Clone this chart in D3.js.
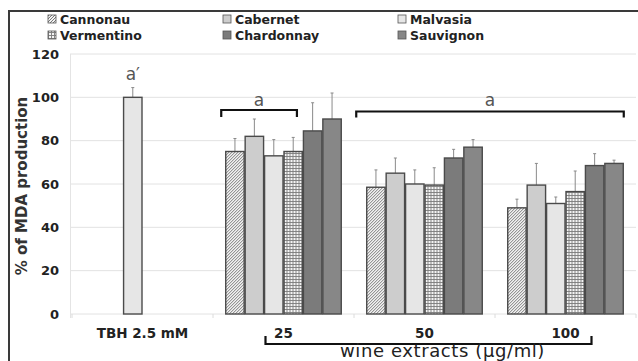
<!DOCTYPE html>
<html>
<head>
<meta charset="utf-8">
<script src="https://cdn.jsdelivr.net/npm/d3@7"></script>
<style>
  body { margin: 0; background: #fff; }
  svg { display: block; font-family: "DejaVu Sans", Verdana, sans-serif; }
</style>
</head>
<body>
<svg id="main" width="638" height="361"></svg>
<script>
var categories = ["TBH 2.5 mM", "25", "50", "100"];
var seriesNames = ["Cannonau", "Cabernet", "Malvasia", "Vermentino", "Chardonnay", "Sauvignon"];

// % of MDA production, one list per wine (null = no bar)
var cannonau   = [null, 75, 58.5, 49];
var cabernet   = [null, 82, 65, 59.5];
var malvasia   = [100, 73, 60, 51];
var vermentino = [null, 75, 59.5, 56.5];
var chardonnay = [null, 84.5, 72, 68.5];
var sauvignon  = [null, 90, 77, 69.5];

// standard deviations
var cannonauErr   = [null, 6, 8, 4];
var cabernetErr   = [null, 8, 7, 10];
var malvasiaErr   = [4.5, 7.5, 6.5, 3];
var vermentinoErr = [null, 6.5, 8, 9.5];
var chardonnayErr = [null, 13, 4, 5.5];
var sauvignonErr  = [null, 12, 3.5, 1.5];

var yTicks = [0, 20, 40, 60, 80, 100, 120];

function drawChart(){
    var svg = d3.select("#main");
    svg.selectAll("*").remove();

    var values = [cannonau, cabernet, malvasia, vermentino, chardonnay, sauvignon];
    var errors = [cannonauErr, cabernetErr, malvasiaErr, vermentinoErr, chardonnayErr, sauvignonErr];

    var fills = ["url(#hatch)", "#cdcdcd", "#e6e6e6", "url(#check)", "#7b7b7b", "#878787"];

    // patterns
    var defs = svg.append("defs");
    var hatch = defs.append("pattern").attr("id", "hatch")
        .attr("patternUnits", "userSpaceOnUse")
        .attr("width", 3).attr("height", 3);
    hatch.append("rect").attr("width", 3).attr("height", 3).attr("fill", "#f2f2f2");
    hatch.append("path").attr("d", "M-1,1 l2,-2 M0,3 l3,-3 M2,4 l2,-2")
        .attr("stroke", "#6a6a6a").attr("stroke-width", 0.9);

    var check = defs.append("pattern").attr("id", "check")
        .attr("patternUnits", "userSpaceOnUse")
        .attr("width", 3).attr("height", 3);
    check.append("rect").attr("width", 3).attr("height", 3).attr("fill", "#f4f4f4");
    check.append("path").attr("d", "M0,0.5 h3 M0.5,0 v3")
        .attr("stroke", "#7a7a7a").attr("stroke-width", 0.9);

    // outer frame (left and top visible in the photo)
    svg.append("path")
        .attr("d", "M9,362 V11 H640")
        .attr("fill", "none").attr("stroke", "#3a3a3a").attr("stroke-width", 2);

    var y = d3.scaleLinear().domain([0, 120]).range([314, 54]);
    var x0 = d3.scaleBand().domain(categories).range([72, 636]).paddingInner(0).paddingOuter(0);
    var x1 = d3.scaleBand().domain(seriesNames).range([0, x0.bandwidth()]).paddingInner(0).paddingOuter(0.63);

    // gridlines
    svg.append("g").selectAll("line")
        .data(yTicks).enter().append("line")
        .attr("x1", 70).attr("x2", 636)
        .attr("y1", d => y(d)).attr("y2", d => y(d))
        .attr("stroke", "#e2e2e2").attr("stroke-width", 1);

    // y axis labels
    var yAxis = d3.axisLeft(y).tickValues(yTicks).tickSize(0).tickPadding(0);
    var gy = svg.append("g").attr("transform", "translate(59,0)").call(yAxis);
    gy.select(".domain").remove();
    gy.selectAll("text")
        .style("font-size", "13px").style("font-weight", "bold")
        .attr("fill", "#222").attr("font-family", "DejaVu Sans");

    // faint axis line + category tick marks
    svg.append("line").attr("x1", 70.5).attr("x2", 70.5).attr("y1", 54).attr("y2", 318)
        .attr("stroke", "#e4e4e4");
    var xAxis = d3.axisBottom(x0).tickSize(0).tickPadding(14);
    var gx = svg.append("g").attr("transform", "translate(0," + y(0) + ")").call(xAxis);
    gx.select(".domain").remove();
    gx.selectAll("text")
        .style("font-size", "13.5px").style("font-weight", "bold")
        .attr("fill", "#222").attr("font-family", "DejaVu Sans");
    svg.append("g").selectAll("line")
        .data(categories.concat(["end"])).enter().append("line")
        .attr("x1", (d, i) => 72 + i * x0.step()).attr("x2", (d, i) => 72 + i * x0.step())
        .attr("y1", y(0)).attr("y2", y(0) + 4)
        .attr("stroke", "#dcdcdc");

    // bars
    var rows = [];
    seriesNames.forEach(function(s, si){
        categories.forEach(function(c, ci){
            if (values[si][ci] != null) {
                rows.push({series: s, si: si, cat: c, value: values[si][ci], err: errors[si][ci]});
            }
        });
    });

    var bars = svg.append("g").selectAll("g")
        .data(rows).enter().append("g")
        .attr("transform", d => "translate(" + (x0(d.cat) + x1(d.series)) + ",0)");

    // error bars (drawn first so the bar outline covers the base)
    bars.append("line")
        .attr("x1", x1.bandwidth() / 2).attr("x2", x1.bandwidth() / 2)
        .attr("y1", d => y(d.value)).attr("y2", d => y(d.value + d.err))
        .attr("stroke", "#8a8a8a").attr("stroke-width", 1);
    bars.append("line")
        .attr("x1", x1.bandwidth() / 2 - 1.5).attr("x2", x1.bandwidth() / 2 + 1.5)
        .attr("y1", d => y(d.value + d.err)).attr("y2", d => y(d.value + d.err))
        .attr("stroke", "#8a8a8a").attr("stroke-width", 1);

    bars.append("rect")
        .attr("x", 0.5)
        .attr("y", d => y(d.value))
        .attr("width", x1.bandwidth() - 1)
        .attr("height", d => y(0) - y(d.value))
        .attr("fill", d => fills[d.si])
        .attr("stroke", "#4a4a4a").attr("stroke-width", 1.4);

    // legend
    var legend = svg.append("g").selectAll("g")
        .data(seriesNames).enter().append("g")
        .attr("transform", (d, i) => "translate(" + (48 + (i % 3) * 175) + "," + (19 + Math.floor(i / 3) * 16) + ")");
    legend.append("rect")
        .attr("x", 0).attr("y", -4).attr("width", 8).attr("height", 8)
        .attr("fill", (d, i) => fills[i])
        .attr("stroke", "#555").attr("stroke-width", 0.8);
    legend.append("text")
        .attr("x", 12).attr("dy", "0.36em")
        .style("font-size", "12.5px").style("font-weight", "bold")
        .attr("fill", "#222")
        .text(d => d);

    // y title
    svg.append("text")
        .attr("transform", "translate(27,186) rotate(-90)")
        .attr("text-anchor", "middle")
        .style("font-size", "15px").style("font-weight", "bold")
        .attr("fill", "#333")
        .text("% of MDA production");

    // significance letters and brackets
    var bw = x1.bandwidth();
    var tbhX = x0("TBH 2.5 mM") + x1("Malvasia") + bw / 2;
    svg.append("text")
        .attr("x", tbhX).attr("y", 80)
        .attr("text-anchor", "middle")
        .style("font-size", "17px").attr("fill", "#555")
        .text("a\u2032");

    function bracket(xa, xb, yy, down){
        svg.append("path")
            .attr("d", "M" + xa + "," + (yy + down) + " V" + yy + " H" + xb + " V" + (yy + down))
            .attr("fill", "none").attr("stroke", "#111").attr("stroke-width", 2.2);
    }
    var b1a = x0("25") + x1("Cannonau") - 4;
    var b1b = x0("25") + x1("Vermentino") + bw - 6;
    bracket(b1a, b1b, 110, 7);
    svg.append("text")
        .attr("x", (b1a + b1b) / 2).attr("y", 106)
        .attr("text-anchor", "middle")
        .style("font-size", "17px").attr("fill", "#555")
        .text("a");

    var b2a = x0("50") + x1("Cannonau") - 10;
    var b2b = x0("100") + x1("Sauvignon") + bw;
    bracket(b2a, b2b, 111.5, 6);
    svg.append("text")
        .attr("x", (b2a + b2b) / 2).attr("y", 106)
        .attr("text-anchor", "middle")
        .style("font-size", "17px").attr("fill", "#555")
        .text("a");

    // bottom bracket for wine extract doses
    var c25 = x0("25") + x0.bandwidth() / 2;
    var c100 = x0("100") + x0.bandwidth() / 2;
    bracket(c25 - 18, c100 + 26, 344, -8);
    svg.append("text")
        .attr("x", (c25 + c100) / 2 + 18).attr("y", 357)
        .attr("text-anchor", "middle")
        .style("font-size", "18px").style("letter-spacing", "0.6px")
        .attr("fill", "#222")
        .text("wine extracts (\u00b5g/ml)");
}

drawChart();
</script>
</body>
</html>
